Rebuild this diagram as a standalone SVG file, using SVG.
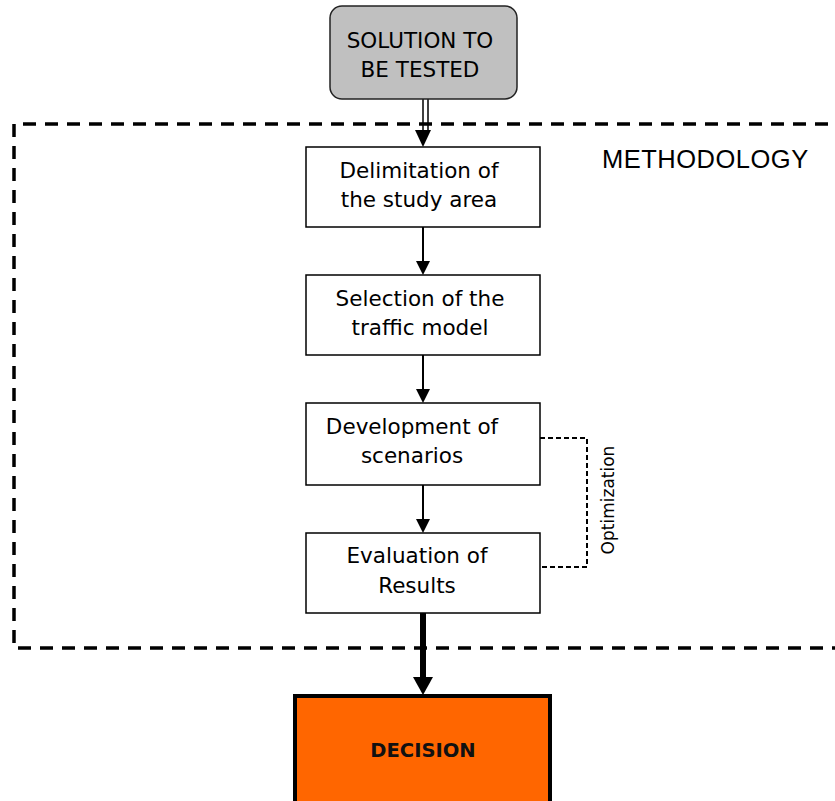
<svg xmlns="http://www.w3.org/2000/svg" width="835" height="801" viewBox="0 0 835 801">
<style>
.box{fill:#fff;stroke:#000;stroke-width:1.5}
.t{font-family:"DejaVu Sans",sans-serif;font-size:21.5px;fill:#000;text-anchor:middle}
.ln{stroke:#000;stroke-width:2;fill:none}
</style>
<rect width="835" height="801" fill="#fff"/>
<g id="methodology">
<path d="M850,124 H14 V648 H850" fill="none" stroke="#000" stroke-width="3.5" stroke-dasharray="13,9"/>
<text x="602" y="168" font-family="Liberation Sans,Arial,sans-serif" font-size="25.5" letter-spacing="0.5" fill="#000">METHODOLOGY</text>
</g>
<g id="connectors">
<line x1="428" y1="86" x2="428" y2="130" stroke="#000" stroke-width="1.5"/>
<line x1="423" y1="98" x2="423" y2="132" stroke="#000" stroke-width="1.5"/>
<polygon points="415,130 431,130 423,147" fill="#000"/>
<line class="ln" x1="423" y1="227" x2="423" y2="262"/>
<polygon points="416,261 430,261 423,275" fill="#000"/>
<line class="ln" x1="423" y1="355" x2="423" y2="390"/>
<polygon points="416,389 430,389 423,403" fill="#000"/>
<line class="ln" x1="423" y1="485" x2="423" y2="520"/>
<polygon points="416,519 430,519 423,533" fill="#000"/>
<line x1="423" y1="613" x2="423" y2="680" stroke="#000" stroke-width="6"/>
<polygon points="413,677 433,677 423,695" fill="#000"/>
<path d="M540,438 H587 V567 H540" fill="none" stroke="#000" stroke-width="2" stroke-dasharray="5,3"/>
<text transform="translate(614,500) rotate(-90)" font-family="DejaVu Sans,sans-serif" font-size="17" text-anchor="middle" fill="#000">Optimization</text>
</g>
<g id="solution">
<rect x="330" y="6" width="187" height="93" rx="12" fill="#c0c0c0" stroke="#222" stroke-width="1.5"/>
<text class="t" x="420" y="48">SOLUTION TO</text>
<text class="t" x="420" y="77">BE TESTED</text>
</g>
<g id="delimitation">
<rect class="box" x="306" y="147" width="234" height="80"/>
<text class="t" x="419" y="178">Delimitation of</text>
<text class="t" x="419" y="207">the study area</text>
</g>
<g id="selection">
<rect class="box" x="306" y="275" width="234" height="80"/>
<text class="t" x="420" y="306">Selection of the</text>
<text class="t" x="420" y="335">traffic model</text>
</g>
<g id="development">
<rect class="box" x="306" y="403" width="234" height="82"/>
<text class="t" x="412" y="434">Development of</text>
<text class="t" x="412" y="463">scenarios</text>
</g>
<g id="evaluation">
<rect class="box" x="306" y="533" width="234" height="80"/>
<text class="t" x="417" y="563">Evaluation of</text>
<text class="t" x="417" y="593">Results</text>
</g>
<g id="decision">
<rect x="295" y="696" width="255" height="110" fill="#ff6600" stroke="#000" stroke-width="4"/>
<text x="423" y="757" font-family="DejaVu Sans,sans-serif" font-size="19.5" font-weight="bold" text-anchor="middle" fill="#111">DECISION</text>
</g>
</svg>
